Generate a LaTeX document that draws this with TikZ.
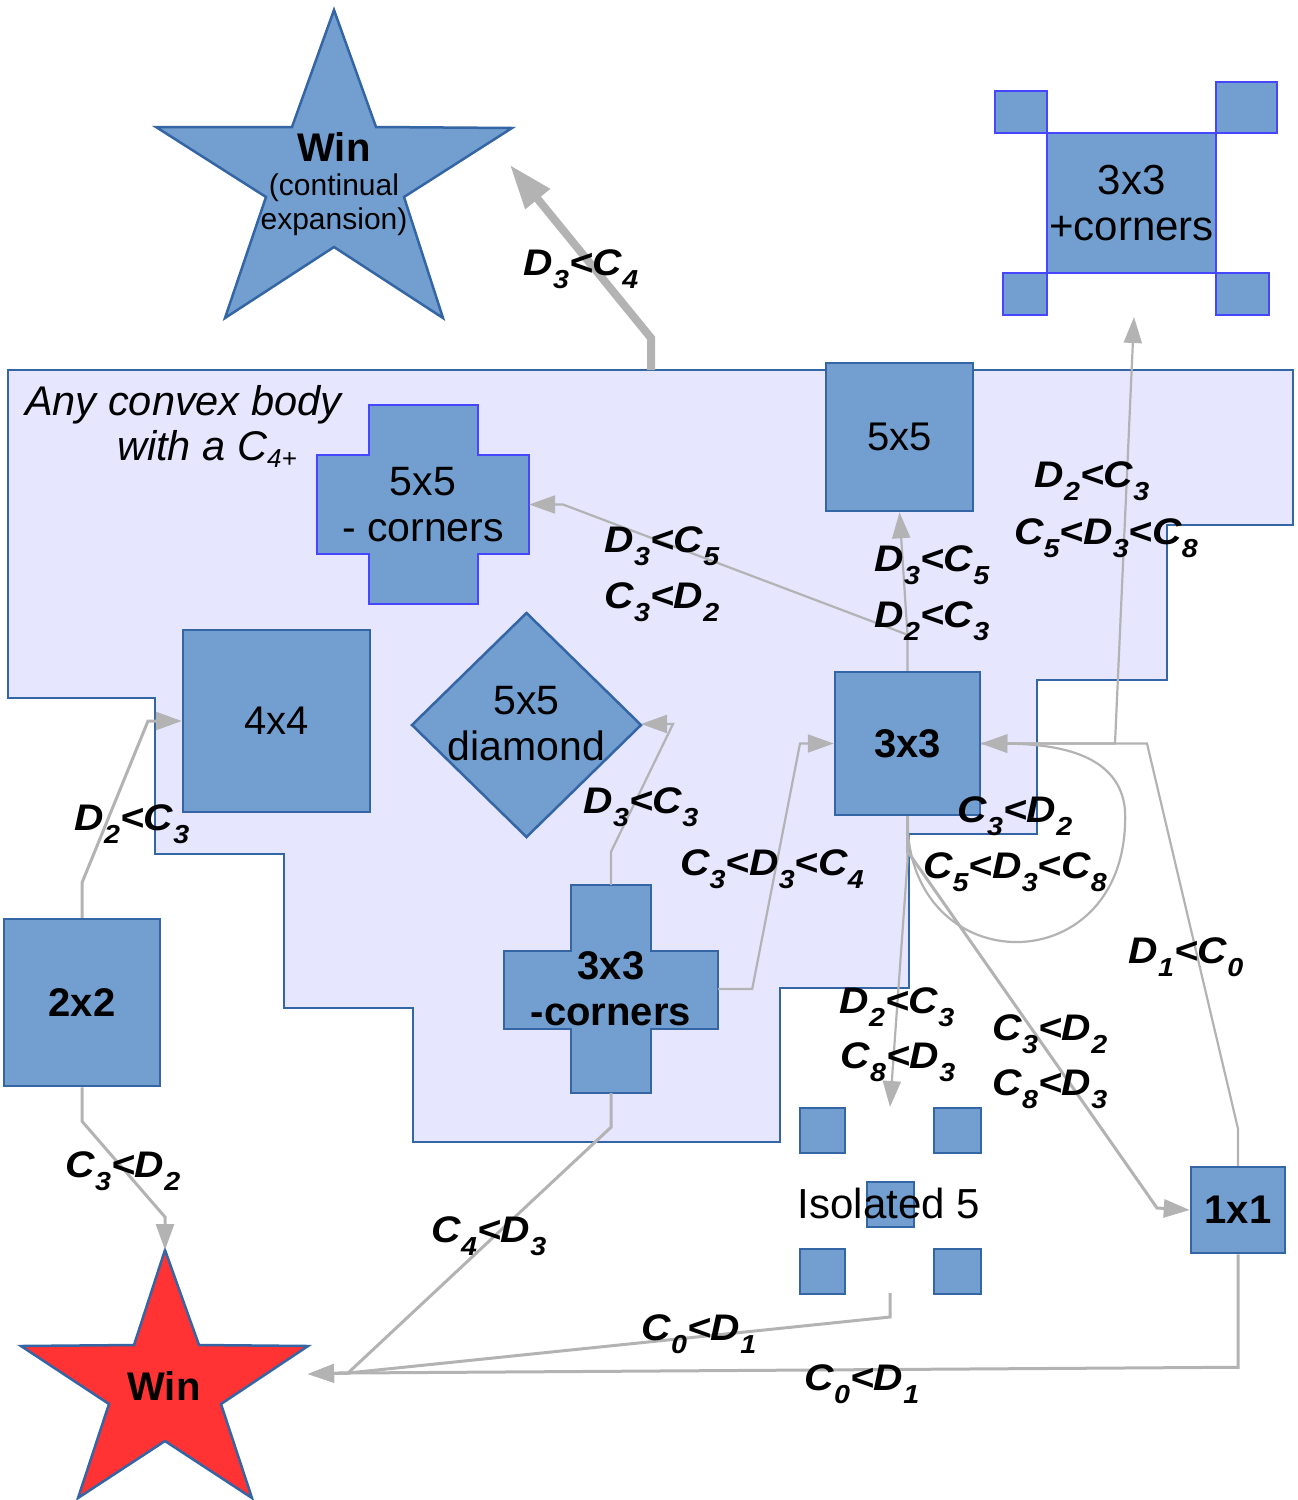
\documentclass[tikz,border=0pt]{standalone}
\usepackage{fontspec}
\setmainfont{Liberation Sans}
\newfontfamily\labfont[FakeStretch=1.1]{Liberation Sans}
\usetikzlibrary{arrows.meta,calc}
\definecolor{nodefill}{HTML}{729FCF}
\definecolor{nodeline}{HTML}{3465A4}
\definecolor{brightline}{HTML}{4646FF}
\definecolor{regionfill}{HTML}{E6E6FF}
\definecolor{conngray}{HTML}{B3B3B3}
\definecolor{starred}{HTML}{FF3333}
\newcommand\sbs[1]{\raisebox{-13pt}{\fontsize{26}{26}\selectfont #1}}
\newcommand\sbr[1]{\raisebox{-7pt}{\fontsize{26}{26}\selectfont #1}}
\tikzset{
  shapefill/.style={draw=nodeline, fill=nodefill, line width=2.5pt, line join=miter},
  brightfill/.style={draw=brightline, fill=nodefill, line width=2.5pt},
  box/.style={shapefill, inner sep=0pt, align=center, font=\fontsize{40}{46}\selectfont},
  bbox/.style={box, font=\fontsize{40}{46}\selectfont\bfseries},
  txt/.style={inner sep=0pt, align=center, font=\fontsize{40}{46}\selectfont},
  conn/.style={draw=conngray, line width=2.2pt, -{Triangle[length=26pt,width=18pt]}},
  connw/.style={draw=conngray, line width=3pt, -{Triangle[length=26pt,width=18pt]}},
  lab/.style={anchor=base, inner sep=0pt, font=\labfont\fontsize{37}{40}\selectfont\bfseries\itshape},
}
\begin{document}
\begin{tikzpicture}[x=1pt,y=-1pt]
\useasboundingbox (0,0) rectangle (1298,1500);

% ---------- region ----------
\draw[draw=nodeline, fill=regionfill, line width=1.6pt]
  (8,370) -- (1293,370) -- (1293,525) -- (1167,525) -- (1167,680) -- (1037,680)
  -- (1037,834) -- (909,834) -- (909,988) -- (780,988) -- (780,1142) -- (413,1142)
  -- (413,1008) -- (284,1008) -- (284,854) -- (155,854) -- (155,698) -- (8,698) -- cycle;
\node[anchor=base west, inner sep=0pt, font=\fontsize{41.5}{46}\selectfont\itshape] (regA) at (25,415) {Any convex body};
\node[anchor=base west, inner sep=0pt, font=\fontsize{41.5}{46}\selectfont\itshape] (regB) at (117,460) {with a C\sbr{4+}};
\coordinate (regtop) at (651,370);

% ---------- shapes ----------
% top blue star
\draw[shapefill] (334,10) -- (376,127) -- (512,128) -- (404,197) -- (443,318) -- (334,247)
  -- (225,318) -- (266,197) -- (156,127) -- (292,127) -- cycle;
\node[txt, font=\fontsize{30}{34}\selectfont] (winA) at (334,184)
  {{\fontsize{40}{34}\selectfont\bfseries Win}\\(continual\\expansion)};
\coordinate (winAin) at (510,165);

% red star
\draw[draw=nodeline, fill=starred, line width=2.5pt] (165,1250) -- (199,1345) -- (308,1346) -- (221,1404)
  -- (252,1498) -- (165,1441) -- (78,1498) -- (109,1404) -- (21,1346) -- (134,1345) -- cycle;
\node[txt, font=\fontsize{40}{46}\selectfont\bfseries] (winB) at (164,1386) {Win};
\coordinate (winBtop) at (165,1250);
\coordinate (winBright) at (308,1374);
\coordinate (winBjoin) at (348,1373);

% 3x3 + corners
\draw[brightfill] (995,91) rectangle (1047,133);
\draw[brightfill] (1216,82) rectangle (1277,133);
\draw[brightfill] (1003,273) rectangle (1047,315);
\draw[brightfill] (1216,273) rectangle (1269,315);
\node[box, draw=brightline, minimum width=169pt, minimum height=140pt, font=\fontsize{42}{46}\selectfont] (n33p) at (1131.5,203) {3x3\\+corners};
\coordinate (n33pin) at (1134,317);

% 5x5
\node[box, minimum width=147pt, minimum height=148pt] (n55) at (899.5,437) {5x5};

% 5x5 - corners (cross)
\draw[brightfill] (369,405) -- (478,405) -- (478,455) -- (529,455) -- (529,554) -- (478,554)
  -- (478,604) -- (369,604) -- (369,554) -- (317,554) -- (317,455) -- (369,455) -- cycle;
\node[txt, minimum width=212pt, minimum height=199pt, font=\fontsize{41}{46}\selectfont] (n55m) at (423,504.5) {5x5\\- corners};

% 4x4
\node[box, minimum width=187pt, minimum height=182pt] (n44) at (276.5,721) {4x4};

% 5x5 diamond
\draw[shapefill] (412,725) -- (526.5,613) -- (641,725) -- (526.5,837) -- cycle;
\node[txt, font=\fontsize{41}{46}\selectfont] (n55d) at (526.5,724) {5x5\\diamond};
\coordinate (n55dE) at (641,724);

% 3x3
\node[bbox, minimum width=145pt, minimum height=143pt] (n33) at (907.5,743.5) {3x3};

% 3x3 - corners (cross)
\draw[shapefill] (571,885) -- (651,885) -- (651,951) -- (718,951) -- (718,1029) -- (651,1029)
  -- (651,1093) -- (571,1093) -- (571,1029) -- (504,1029) -- (504,951) -- (571,951) -- cycle;
\node[txt, font=\fontsize{40}{46}\selectfont\bfseries, minimum width=214pt, minimum height=208pt] (n33m) at (611,989) {3x3\\-corners};

% 2x2
\node[bbox, minimum width=156pt, minimum height=167pt] (n22) at (82,1002.5) {2x2};

% 1x1
\node[bbox, minimum width=94pt, minimum height=86pt] (n11) at (1238,1210) {1x1};

% isolated 5
\draw[shapefill] (800,1108) rectangle (845,1153);
\draw[shapefill] (934,1108) rectangle (981,1153);
\draw[shapefill] (867,1182) rectangle (914,1227);
\draw[shapefill] (800,1249) rectangle (845,1294);
\draw[shapefill] (934,1249) rectangle (981,1294);
\node[anchor=base, inner sep=0pt, font=\fontsize{42}{46}\selectfont] (iso) at (889,1218) {Isolated 5};
\coordinate (isoin) at (890,1107);
\coordinate (isoout) at (890,1293);

% ---------- connectors ----------
\draw[draw=conngray, line width=8pt, -{Triangle[length=44pt,width=30pt]}]
  (regtop) -- ++(0,-32) -- (winAin);
\draw[connw] (n22.north) -- ++(0,-35) -- (148,721) -- (n44.west);
\draw[connw] (n22.south) -- ++(0,34) -- (165,1217) -- (winBtop);
\draw[conn] (n33.north) -- ++(0,-36) -- (n55.south);
\draw[conn] ($(n33.north)+(0,-36)$) -- (563,504.5) -- (n55m.east);
\draw[conn] (n33m.north) -- ++(0,-33) -- (673,724) -- (n55dE);
\draw[conn] (n33m.east) -- ++(34,0) -- (800,743.5) -- (n33.west);
\draw[connw] (n33m.south) -- ++(0,34) -- (winBjoin) -- (winBright);
\draw[conn] (n33.east) -- (1115,743.5) -- (n33pin);
\draw[conn] (n11.north) -- ++(0,-37) -- (1147,743.5) -- (n33.east);
\draw[conn] (n33.south) .. controls (905,985) and (1132,985) .. (1125,810)
  .. controls (1120,755) and (1060,744) .. (n33.east);
\draw[conn] (n33.south) -- ++(0,45) -- (isoin);
\draw[connw] (n33.south) -- ++(0,35) -- (1157,1208) -- (n11.west);
\draw[connw] (isoout) -- ++(0,24) -- (winBjoin) -- (winBright);
\draw[connw] (n11.south) -- ++(0,113) -- (winBjoin) -- (winBright);

% ---------- labels ----------
\node[lab] (l1) at (581,275) {D\sbs{3}<C\sbs{4}};
\node[lab] (l2) at (132,830) {D\sbs{2}<C\sbs{3}};
\node[lab] (l3) at (123,1177) {C\sbs{3}<D\sbs{2}};
\node[lab] (l4) at (489,1242) {C\sbs{4}<D\sbs{3}};
\node[lab] (l5a) at (662,552) {D\sbs{3}<C\sbs{5}};
\node[lab] (l5b) at (662,608) {C\sbs{3}<D\sbs{2}};
\node[lab] (l6) at (641,813) {D\sbs{3}<C\sbs{3}};
\node[lab] (l7) at (772,875) {C\sbs{3}<D\sbs{3}<C\sbs{4}};
\node[lab] (l8a) at (932,571) {D\sbs{3}<C\sbs{5}};
\node[lab] (l8b) at (932,627) {D\sbs{2}<C\sbs{3}};
\node[lab] (l9a) at (1092,487) {D\sbs{2}<C\sbs{3}};
\node[lab] (l9b) at (1106,544) {C\sbs{5}<D\sbs{3}<C\sbs{8}};
\node[lab] (l10a) at (1015,822) {C\sbs{3}<D\sbs{2}};
\node[lab] (l10b) at (1015,878) {C\sbs{5}<D\sbs{3}<C\sbs{8}};
\node[lab] (l11a) at (897,1013) {D\sbs{2}<C\sbs{3}};
\node[lab] (l11b) at (898,1068) {C\sbs{8}<D\sbs{3}};
\node[lab] (l12a) at (1050,1040) {C\sbs{3}<D\sbs{2}};
\node[lab] (l12b) at (1050,1095) {C\sbs{8}<D\sbs{3}};
\node[lab] (l13) at (1186,963) {D\sbs{1}<C\sbs{0}};
\node[lab] (l14) at (699,1340) {C\sbs{0}<D\sbs{1}};
\node[lab] (l15) at (862,1390) {C\sbs{0}<D\sbs{1}};
\end{tikzpicture}
\end{document}
